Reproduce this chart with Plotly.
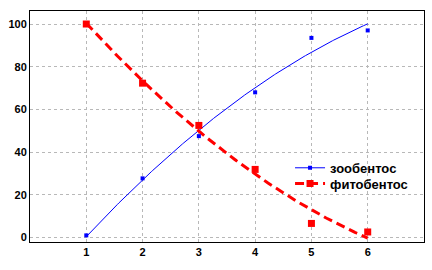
import numpy as np
import plotly.graph_objects as go

x_vals = [1, 2, 3, 4, 5, 6]
zoo_vals = [1, 27.7, 47.5, 68, 93.5, 97]
phyto_vals = [100, 72.3, 52.5, 31.9, 6.6, 2.6]
x_ticks = [1, 2, 3, 4, 5, 6]
y_ticks = [0, 20, 40, 60, 80, 100]
names = ["зообентос", "фитобентос"]

BLUE = "#0000ff"
RED = "#ff0000"

xs = np.linspace(min(x_vals), max(x_vals), 200)
zoo_fit = np.polyval(np.polyfit(x_vals, zoo_vals, 2), xs)
phy_fit = np.polyval(np.polyfit(x_vals, phyto_vals, 2), xs)

fig = go.Figure()
fig.add_trace(go.Scatter(x=xs, y=zoo_fit, mode="lines",
                         line=dict(color=BLUE, width=1), showlegend=False))
fig.add_trace(go.Scatter(x=xs, y=phy_fit, mode="lines",
                         line=dict(color=RED, width=3, dash="9px,5px"), showlegend=False))
fig.add_trace(go.Scatter(x=x_vals, y=zoo_vals, mode="markers",
                         marker=dict(symbol="square", size=4, color=BLUE), showlegend=False))
fig.add_trace(go.Scatter(x=x_vals, y=phyto_vals, mode="markers",
                         marker=dict(symbol="square", size=7, color=RED), showlegend=False))
# legend entries
fig.add_trace(go.Scatter(x=[None], y=[None], mode="lines+markers", name=names[0],
                         line=dict(color=BLUE, width=1),
                         marker=dict(symbol="square", size=4, color=BLUE),
                         legend="legend"))
fig.add_trace(go.Scatter(x=[None], y=[None], mode="lines+markers", name=names[1],
                         line=dict(color=RED, width=3, dash="9px,5px"),
                         marker=dict(symbol="square", size=7, color=RED),
                         legend="legend2"))

axis_common = dict(showline=True, linecolor="black", linewidth=1, mirror=True,
                   showgrid=True, gridcolor="#b8b8b8", griddash="dot", gridwidth=1,
                   zeroline=False, ticks="",
                   tickfont=dict(family="Liberation Sans, Arial", size=11, color="black",
                                 weight="bold"))

leg_common = dict(xanchor="left", yanchor="top",
                  bgcolor="rgba(0,0,0,0)", borderwidth=0,
                  font=dict(family="Liberation Sans, Arial", size=13, color="black",
                            weight="bold"))

fig.update_layout(
    width=432, height=270,
    margin=dict(l=30, r=8, t=11, b=28),
    paper_bgcolor="white", plot_bgcolor="white",
    xaxis=dict(range=[0, 7], tickvals=x_ticks, **axis_common),
    yaxis=dict(range=[-2.1, 106.1], tickvals=y_ticks, **axis_common),
    legend=dict(x=0.660, y=0.386, **leg_common),
    legend2=dict(x=0.660, y=0.318, **leg_common),
    showlegend=True,
)

fig.write_html("out.html")
